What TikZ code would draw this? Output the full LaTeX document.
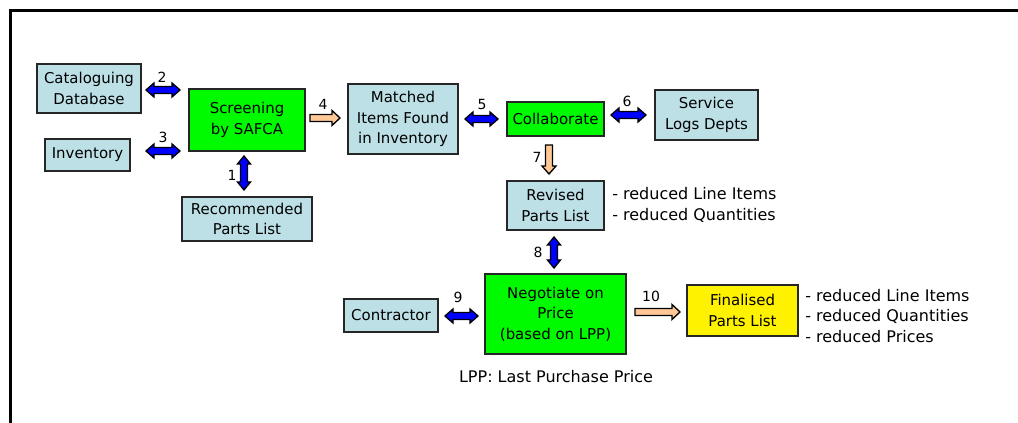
\documentclass[tikz,border=0pt]{standalone}
\usepackage{fontspec}
\setmainfont{DejaVu Sans}
\definecolor{boxblue}{RGB}{188,224,230}
\definecolor{boxgreen}{RGB}{0,250,0}
\definecolor{peach}{RGB}{255,200,150}
\definecolor{arrblue}{RGB}{0,0,255}
\newcommand\pbox[7]{\node[#2, minimum width={(#5-#3)*0.75pt}, minimum height={(#6-#4)*0.75pt}] (#1) at ({(#3+#5)/2},{(#4+#6)/2}) {#7};}
% horizontal double block arrow: x1 x2 y
\newcommand\dah[3]{\draw[barrow] (#1,#3) -- ({#1+8},{#3-7}) -- ({#1+8},{#3-3.5}) -- ({#2-8},{#3-3.5}) -- ({#2-8},{#3-7}) -- (#2,#3) -- ({#2-8},{#3+7}) -- ({#2-8},{#3+3.5}) -- ({#1+8},{#3+3.5}) -- ({#1+8},{#3+7}) -- cycle;}
% vertical double block arrow: x y1 y2
\newcommand\dav[3]{\draw[barrow] (#1,#2) -- ({#1-6.5},{#2+8}) -- ({#1-3.5},{#2+8}) -- ({#1-3.5},{#3-8}) -- ({#1-6.5},{#3-8}) -- (#1,#3) -- ({#1+6.5},{#3-8}) -- ({#1+3.5},{#3-8}) -- ({#1+3.5},{#2+8}) -- ({#1+6.5},{#2+8}) -- cycle;}
% horizontal single block arrow: x1 x2 y
\newcommand\sah[3]{\draw[oarrow] (#1,{#3-3.5}) -- ({#2-8},{#3-3.5}) -- ({#2-8},{#3-7.5}) -- (#2,#3) -- ({#2-8},{#3+7.5}) -- ({#2-8},{#3+3.5}) -- (#1,{#3+3.5}) -- cycle;}
% vertical single block arrow (down): x y1 y2
\newcommand\sav[3]{\draw[oarrow] ({#1-3.5},#2) -- ({#1-3.5},{#3-8}) -- ({#1-7},{#3-8}) -- (#1,#3) -- ({#1+7},{#3-8}) -- ({#1+3.5},{#3-8}) -- ({#1+3.5},#2) -- cycle;}
\begin{document}
\begin{tikzpicture}[x=0.75pt,y=-0.75pt,
  font=\fontsize{11.2}{15.5}\selectfont,
  box/.style={draw=black!85, line width=1.3pt, align=center, inner sep=0pt},
  lb/.style={box, fill=boxblue},
  gr/.style={box, fill=boxgreen},
  yl/.style={box, fill=yellow},
  num/.style={inner sep=0pt, font=\fontsize{10.5}{12}\selectfont},
  note/.style={inner sep=0pt, anchor=west, align=left, font=\fontsize{12}{15.5}\selectfont},
  barrow/.style={draw=black, line width=1pt, fill=arrblue, line join=miter},
  oarrow/.style={draw=black, line width=1pt, fill=peach, line join=miter}]
\useasboundingbox (0,0) rectangle (1018,423);
\fill[white] (0,0) rectangle (1018,423);
% frame
\coordinate (fbl) at (10.8,430);
\coordinate (ftl) at (10.8,10.5);
\coordinate (ftr) at (1030,10.5);
\draw[line width=2.25pt] (fbl) -- (ftl) -- (ftr);

% boxes
\pbox{cat}{lb}{37}{64}{141}{113}{Cataloguing\\Database}
\pbox{inv}{lb}{45}{139}{130}{171}{Inventory}
\pbox{scr}{gr}{189}{89}{305}{151}{Screening\\by SAFCA}
\pbox{rec}{lb}{182}{197}{312}{241}{Recommended\\Parts List}
\pbox{mat}{lb}{348}{84}{458}{154}{Matched\\Items Found\\in Inventory}
\pbox{col}{gr}{507}{102}{604}{136}{Collaborate}
\pbox{svc}{lb}{655}{90}{758}{140}{Service\\Logs Depts}
\pbox{rev}{lb}{507}{181}{604}{230}{Revised\\Parts List}
\pbox{neg}{gr}{485}{274}{626}{354}{Negotiate on\\Price\\(based on LPP)}
\pbox{con}{lb}{344}{299}{438}{332}{Contractor}
\pbox{fin}{yl}{687}{285}{798}{336}{Finalised\\Parts List}

% block arrows
\dav{244}{156}{190}
\dah{146}{180}{90}
\dah{146}{180}{151}
\sah{310}{340}{118}
\dah{465}{498}{119}
\dah{611}{646}{115}
\sav{549}{145}{174}
\dav{554}{237}{268}
\dah{445}{478}{316}
\sah{635}{680}{312}

% numbers
\node[num] (n1) at (232,175) {1};
\node[num] (n2) at (162,77) {2};
\node[num] (n3) at (163,137) {3};
\node[num] (n4) at (323,104) {4};
\node[num] (n5) at (482,105) {5};
\node[num] (n6) at (627,101) {6};
\node[num] (n7) at (537,157) {7};
\node[num] (n8) at (538,252) {8};
\node[num] (n9) at (458,297) {9};
\node[num] (n10) at (651,296) {10};

% notes
\node[note] (revn) at (612,205) {- reduced Line Items\\- reduced Quantities};
\node[note] (finn) at (805,316) {- reduced Line Items\\- reduced Quantities\\- reduced Prices};
\node[note, anchor=center] (lpp) at (556,377) {LPP: Last Purchase Price};
\end{tikzpicture}
\end{document}
